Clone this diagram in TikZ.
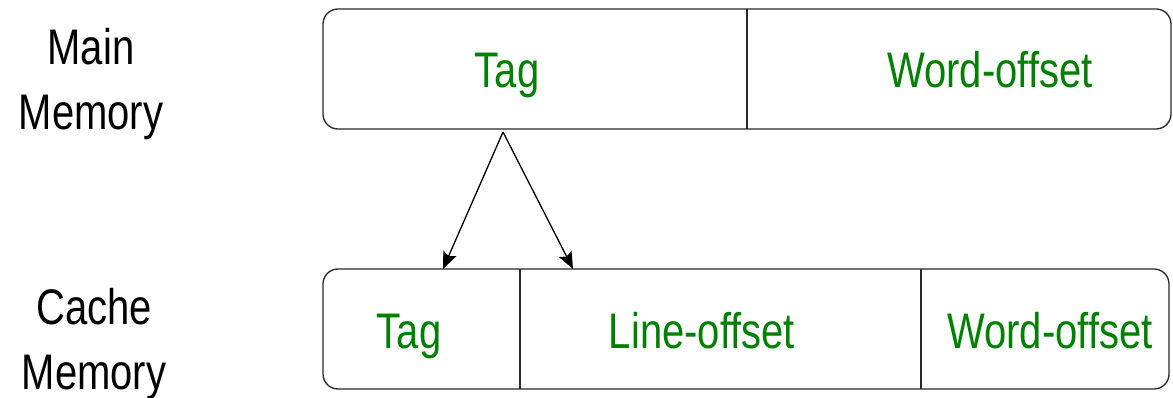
\documentclass[tikz,border=0pt]{standalone}
\usepackage{fontspec}
\setmainfont[FakeStretch=0.8]{Liberation Sans}
\usetikzlibrary{arrows.meta}
\definecolor{fieldgreen}{RGB}{0,128,0}
\definecolor{rule}{RGB}{40,40,40}
\begin{document}
\begin{tikzpicture}[x=1pt,y=-1pt,
  frame/.style={draw=rule,line width=1.3pt,rounded corners=15pt,inner sep=0pt},
  divider/.style={draw=rule,line width=1.1pt},
  field/.style={text=fieldgreen,font=\fontsize{50}{60}\selectfont,inner sep=0pt,anchor=base},
  side/.style={font=\fontsize{50}{65}\selectfont,align=center,inner sep=0pt,anchor=base},
  link/.style={draw=black,line width=1.3pt,-{Stealth[length=17pt,width=14pt,inset=3pt]}}]
\useasboundingbox (0,0) rectangle (1173,398);

% side labels (base anchor sits on the last line)
\node[side] (mainlbl) at (91,130) {Main\\Memory};
\node[side] (cachelbl) at (94,389) {Cache\\Memory};

% main memory address: tag | word-offset
\draw[frame] (323,9) rectangle (1171,129);
\coordinate (mmdivtop) at (747,9);
\coordinate (mmdivbot) at (747,129);
\draw[divider] (mmdivtop) -- (mmdivbot);
\node[field] (mmtag) at (507,88) {Tag};
\node[field] (mmword) at (990,88) {Word-offset};

% cache memory address: tag | line-offset | word-offset
\draw[frame] (323,269) rectangle (1169,389);
\coordinate (cdivAtop) at (520,269);
\coordinate (cdivAbot) at (520,389);
\coordinate (cdivBtop) at (921,269);
\coordinate (cdivBbot) at (921,389);
\draw[divider] (cdivAtop) -- (cdivAbot);
\draw[divider] (cdivBtop) -- (cdivBbot);
\node[field] (ctag) at (409,348) {Tag};
\node[field] (cline) at (702,348) {Line-offset};
\node[field] (cword) at (1050,348) {Word-offset};

% the tag splits into cache tag and line-offset
\coordinate (split) at (503,132);
\coordinate (totag) at (443,269);
\coordinate (toline) at (573,269);
\draw[link] (split) -- (totag);
\draw[link] (split) -- (toline);
\end{tikzpicture}
\end{document}
